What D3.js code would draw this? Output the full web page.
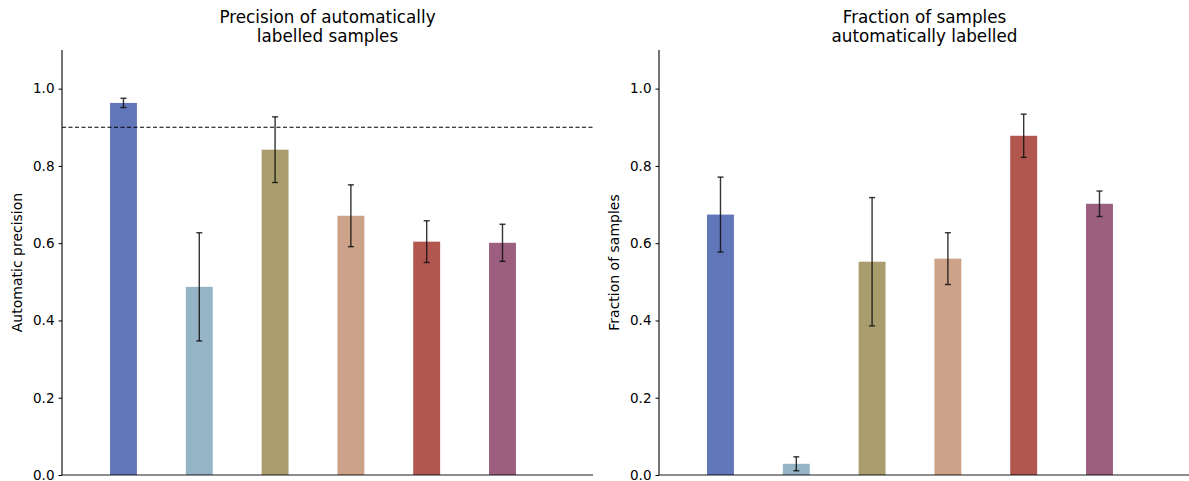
<!DOCTYPE html>
<html>
<head>
<meta charset="utf-8">
<script src="https://cdn.jsdelivr.net/npm/d3@7"></script>
<style>
  body { margin: 0; background: #fff; }
  svg { display: block; font-family: "DejaVu Sans", sans-serif; }
</style>
</head>
<body>
<svg id="chart" width="1189" height="481"></svg>
<script>
// Six methods, one bar each, same order and colours in both panels
const categories = ["A", "B", "C", "D", "E", "F"];
const colors = ["#6276BA", "#95B4C6", "#A99D6E", "#CCA289", "#B15750", "#9C5F80"];

// Left panel: precision of automatically labelled samples
const precisionMean = [0.963, 0.487, 0.842, 0.671, 0.604, 0.601];
const precisionErr  = [0.012, 0.140, 0.085, 0.080, 0.054, 0.048];
const precisionTarget = 0.9;

// Right panel: fraction of samples automatically labelled
const fractionMean = [0.674, 0.029, 0.552, 0.560, 0.878, 0.702];
const fractionErr  = [0.097, 0.018, 0.166, 0.067, 0.056, 0.033];

const yTicks = [0.0, 0.2, 0.4, 0.6, 0.8, 1.0];

const svg = d3.select("#chart");

const panels = [
  { left: 62, title: ["Precision of automatically", "labelled samples"], ylabel: "Automatic precision",
    mean: precisionMean, err: precisionErr, hline: precisionTarget },
  { left: 659, title: ["Fraction of samples", "automatically labelled"], ylabel: "Fraction of samples",
    mean: fractionMean, err: fractionErr, hline: null }
];

const plotW = 531, plotTop = 50, plotBottom = 475;

panels.forEach(p => {
  const g = svg.append("g").attr("transform", `translate(${p.left},0)`);
  const x = d3.scaleLinear().domain([-0.811, categories.length + 0.194]).range([0, plotW]);
  const y = d3.scaleLinear().domain([0, 1.1]).range([plotBottom, plotTop]);
  const bw = x(0.355) - x(0);

  // bars
  g.selectAll("rect.bar").data(p.mean).join("rect")
    .attr("class", "bar")
    .attr("x", (d, i) => x(i) - bw / 2)
    .attr("width", bw)
    .attr("y", d => y(d))
    .attr("height", d => y(0) - y(d))
    .attr("fill", (d, i) => colors[i]);

  // error bars
  const eb = g.selectAll("g.err").data(p.mean).join("g").attr("class", "err")
    .attr("stroke", "#111").attr("stroke-opacity", 0.85).attr("stroke-width", 1.4);
  eb.append("line")
    .attr("x1", (d, i) => x(i)).attr("x2", (d, i) => x(i))
    .attr("y1", (d, i) => y(d - p.err[i])).attr("y2", (d, i) => y(d + p.err[i]));
  [-1, 1].forEach(s => {
    eb.append("line")
      .attr("x1", (d, i) => x(i) - 3).attr("x2", (d, i) => x(i) + 3)
      .attr("y1", (d, i) => y(d + s * p.err[i])).attr("y2", (d, i) => y(d + s * p.err[i]));
  });

  // reference line
  if (p.hline !== null) {
    g.append("line")
      .attr("x1", 0).attr("x2", plotW)
      .attr("y1", y(p.hline)).attr("y2", y(p.hline))
      .attr("stroke", "#000").attr("stroke-width", 1.2)
      .attr("stroke-dasharray", "4,2.5");
  }

  // y axis
  const yAxis = g.append("g")
    .call(d3.axisLeft(y).tickValues(yTicks).tickFormat(d3.format(".1f")).tickSize(3.5).tickPadding(4));
  yAxis.select(".domain").attr("d", `M0,${plotTop}V${plotBottom}`).attr("stroke", "#000").attr("stroke-width", 1.1);
  yAxis.selectAll(".tick line").attr("stroke", "#000");
  yAxis.selectAll(".tick text").attr("font-size", 13.5).attr("fill", "#000")
    .attr("font-family", "DejaVu Sans, sans-serif");

  // bottom spine
  g.append("line")
    .attr("x1", 0).attr("x2", plotW).attr("y1", plotBottom).attr("y2", plotBottom)
    .attr("stroke", "#000").attr("stroke-opacity", 0.6).attr("stroke-width", 1.6);

  // title
  const t = g.append("text").attr("x", plotW / 2).attr("text-anchor", "middle")
    .attr("font-size", 16.8).attr("fill", "#000");
  p.title.forEach((line, i) => t.append("tspan").attr("x", plotW / 2).attr("y", 23 + i * 18.5).text(line));

  // y label
  g.append("text")
    .attr("transform", `translate(-40,${(plotTop + plotBottom) / 2}) rotate(-90)`)
    .attr("text-anchor", "middle").attr("font-size", 14).attr("fill", "#000")
    .text(p.ylabel);
});
</script>
</body>
</html>
